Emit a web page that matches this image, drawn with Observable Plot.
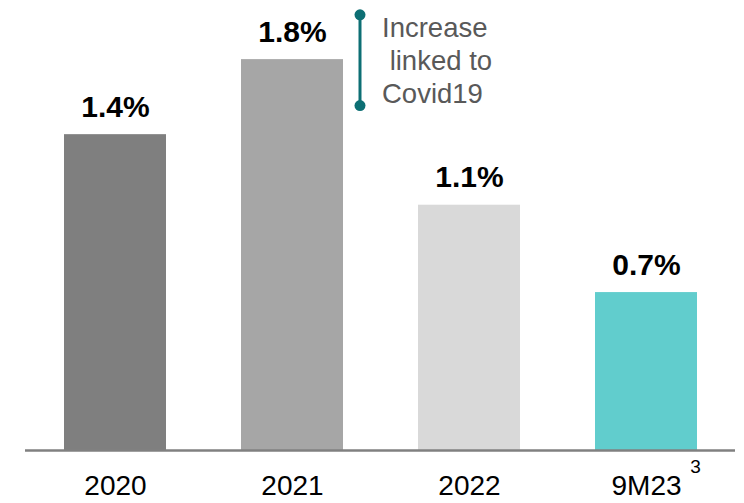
<!DOCTYPE html>
<html>
<head>
<meta charset="utf-8">
<script src="https://cdn.jsdelivr.net/npm/d3@7"></script>
<script src="https://cdn.jsdelivr.net/npm/@observablehq/plot@0.6"></script>
<style>
  html, body { margin: 0; padding: 0; background: #fff; }
  #chart { width: 744px; height: 503px; }
  svg { font-family: "Liberation Sans", Arial, sans-serif; }
</style>
</head>
<body>
<div id="chart"></div>
<script>
const periods = ["2020", "2021", "2022", "9M23"];
const rates = [1.41, 1.745, 1.095, 0.705];
const rateLabels = ["1.4%", "1.8%", "1.1%", "0.7%"];
const barColors = ["#7f7f7f", "#a6a6a6", "#d9d9d9", "#61cdcd"];
const footnotePeriod = ["9M23"];
const footnoteText = ["3"];
const annotationPeriod = ["2021"];
const annotationTop = [1.945];
const annotationBottom = [1.54];
const annotationText = ["Increase\n\u00a0linked to\nCovid19"];

const bars = periods.map((p, i) => ({period: p, rate: rates[i], label: rateLabels[i], color: barColors[i]}));
const note = annotationPeriod.map((p, i) => ({period: p, y1: annotationTop[i], y2: annotationBottom[i], text: annotationText[i]}));
const foot = footnotePeriod.map((p, i) => ({period: p, text: footnoteText[i]}));

const teal = "#0d6f74";

const chart = Plot.plot({
  width: 744,
  height: 503,
  marginLeft: 25,
  marginRight: 9,
  marginTop: 2,
  marginBottom: 53,
  style: {fontFamily: "'Liberation Sans', Arial, sans-serif", background: "#fff"},
  x: {domain: periods, paddingInner: 0.426, paddingOuter: 0.21, label: null},
  y: {domain: [0, 2.0], axis: null},
  marks: [
    Plot.barY(bars, {x: "period", y: "rate", fill: "color"}),
    Plot.ruleY([0], {stroke: "#808080", strokeWidth: 2.5}),
    Plot.axisX({tickSize: 0, tickPadding: 25, fontSize: 28, fill: "#000", label: null}),
    Plot.text(bars, {x: "period", y: "rate", text: "label", lineAnchor: "bottom", dy: -18, fontSize: 30, fontWeight: "bold", fill: "#000"}),
    Plot.text(foot, {x: "period", y: 0, text: "text", dx: 49, dy: 22, lineAnchor: "bottom", fontSize: 19, fill: "#000"}),
    Plot.ruleX(note, {x: "period", y1: "y1", y2: "y2", dx: 67.5, stroke: teal, strokeWidth: 3}),
    Plot.dot(note, {x: "period", y: "y1", dx: 67.5, r: 5.5, fill: teal, stroke: "none"}),
    Plot.dot(note, {x: "period", y: "y2", dx: 67.5, r: 5.5, fill: teal, stroke: "none"}),
    Plot.text(note, {x: "period", y: "y1", text: "text", dx: 89.5, dy: -1, textAnchor: "start", lineAnchor: "top", fontSize: 27.5, lineHeight: 1.2, fill: "#595959"})
  ]
});
document.getElementById("chart").appendChild(chart);
</script>
</body>
</html>
